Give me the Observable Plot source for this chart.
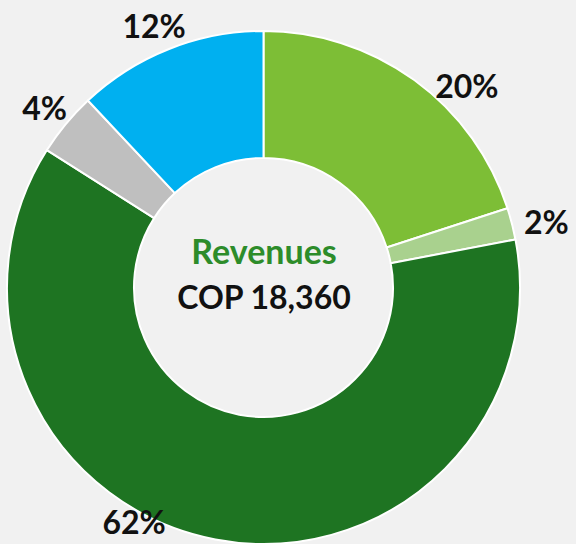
<!DOCTYPE html>
<html><head><meta charset="utf-8">
<script src="https://cdn.jsdelivr.net/npm/d3@7"></script>
<script src="https://cdn.jsdelivr.net/npm/@observablehq/plot@0.6"></script>
<style>html,body{margin:0;padding:0;background:#f1f1f1;overflow:hidden}</style>
</head><body><div id="chart"></div>
<script>
const segments = ["Segment A", "Segment B", "Segment C", "Segment D", "Segment E"];
const shares = [20, 2, 62, 4, 12];
const colors = ["#7dbe36", "#a9d18e", "#1e7422", "#bfbfbf", "#00b0f0"];
const labelTexts = ["20%", "2%", "62%", "4%", "12%"];
const labelNudgeX = [37, 9, -77, -2, -6];
const labelNudgeY = [28, 6, -41, 2, 2];
const centerTitle = "Revenues";
const centerValue = "COP 18,360";

const W = 576, H = 544;
const pxPerUnit = 256.5;
const innerRatio = 129.5 / 256.5;
const labelRadius = 1.10;

const data = segments.map((s, i) => ({
  segment: s, share: shares[i], color: colors[i], label: labelTexts[i],
  nx: labelNudgeX[i], ny: labelNudgeY[i]
}));
const arcs = d3.pie().sort(null).value(d => d.share)(data);
const labels = arcs.map(a => {
  const mid = (a.startAngle + a.endAngle) / 2;
  return {
    ...a.data,
    lx: labelRadius * Math.sin(mid) + a.data.nx / pxPerUnit,
    ly: labelRadius * Math.cos(mid) - a.data.ny / pxPerUnit
  };
});

function donut(index, scales) {
  const cx = scales.x(0), cy = scales.y(0);
  const R = scales.x(1) - scales.x(0);
  const arc = d3.arc().innerRadius(R * innerRatio).outerRadius(R);
  const g = d3.create("svg:g").attr("transform", `translate(${cx},${cy})`);
  g.selectAll("path").data(arcs).join("path")
    .attr("d", arc)
    .attr("fill", d => d.data.color)
    .attr("stroke", "white")
    .attr("stroke-width", 2)
    .attr("stroke-linejoin", "round");
  return g.node();
}

const font = "Lato, 'Open Sans', sans-serif";
const chart = Plot.plot({
  width: W, height: H, margin: 0,
  x: {domain: [-1.0273, 1.2183], axis: null},
  y: {domain: [-1, 1.1209], axis: null},
  style: {background: "#f1f1f1", overflow: "hidden", fontFamily: font},
  marks: [
    donut,
    Plot.text(labels, {x: "lx", y: "ly", text: "label",
      fontSize: 32, fontWeight: "bold", fill: "#111"}),
    Plot.text([centerTitle], {x: () => 0, y: () => 0, dy: -35, text: d => d,
      fontSize: 34, fontWeight: "bold", fill: "#2d8c2a"}),
    Plot.text([centerValue], {x: () => 0, y: () => 0, dy: 10.5, text: d => d,
      fontSize: 32, fontWeight: "bold", fill: "#111"})
  ]
});
document.getElementById("chart").appendChild(chart);
</script>
</body></html>
